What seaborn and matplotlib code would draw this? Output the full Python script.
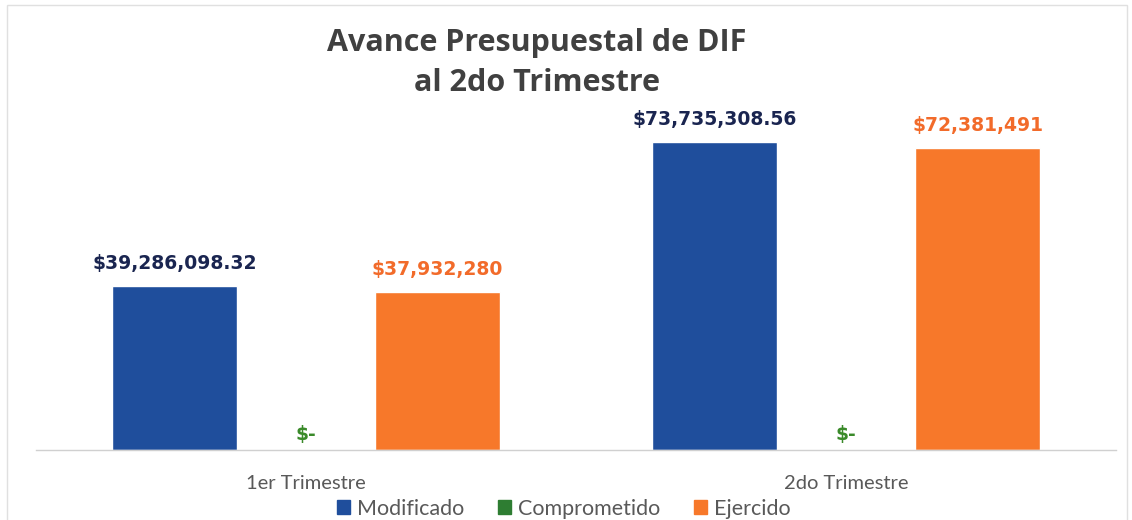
import pandas as pd
import matplotlib.pyplot as plt
import matplotlib.patches as mpatches
import seaborn as sns

#values
trimestres = ['1er Trimestre', '2do Trimestre']
series = ['Modificado', 'Comprometido', 'Ejercido']
modificado = [39286098.32, 73735308.56]
comprometido = [0, 0]
ejercido = [37932280, 72381491]

bar_colors = {'Modificado': '#1f4e9c', 'Comprometido': '#2e7d32', 'Ejercido': '#f7782a'}
label_colors = {'Modificado': '#1a2550', 'Comprometido': '#3a8a2a', 'Ejercido': '#f26b2a'}

#long table for seaborn
rows = []
for i, t in enumerate(trimestres):
    rows.append({'trimestre': t, 'serie': 'Modificado', 'monto': modificado[i]})
    rows.append({'trimestre': t, 'serie': 'Comprometido', 'monto': comprometido[i]})
    rows.append({'trimestre': t, 'serie': 'Ejercido', 'monto': ejercido[i]})
data = pd.DataFrame(rows)

sns.set_theme(style='white')
fig = plt.figure(figsize=(11.32, 5.2), dpi=100)
ax = fig.add_axes([0.032, 0.1346, 0.954, 0.723])

sns.barplot(data=data, x='trimestre', y='monto', hue='serie', order=trimestres,
            hue_order=series, palette=bar_colors, width=0.73, gap=0.05,
            saturation=1, errorbar=None, legend=False, ax=ax)

ax.set_xlim(-0.5, 1.5)
ax.set_ylim(0, 90000000)
ax.set_xlabel('')
ax.set_ylabel('')
ax.set_yticks([])
for s in ['top', 'left', 'right']:
    ax.spines[s].set_visible(False)
ax.spines['bottom'].set_color('#d0d0d0')
ax.spines['bottom'].set_linewidth(1)
ax.tick_params(axis='x', length=0, pad=18, labelsize=14.5, labelcolor='#595959')
for lbl in ax.get_xticklabels():
    lbl.set_family('Lato')

#data labels
def fmt(serie, v):
    if v == 0:
        return '$-'
    if serie == 'Modificado':
        return '${:,.2f}'.format(v)
    return '${:,.0f}'.format(v)

for serie, cont in zip(series, ax.containers):
    for bar in cont:
        v = bar.get_height()
        x = bar.get_x() + bar.get_width() / 2
        off = 9 if v > 0 else 4
        ax.annotate(fmt(serie, v), (x, v), xytext=(0, off), textcoords='offset points',
                    ha='center', va='bottom', fontsize=13.5, fontweight='bold',
                    color=label_colors[serie], family='DejaVu Sans', clip_on=False)

#title
fig.text(0.474, 0.879, 'Avance Presupuestal de DIF\nal 2do Trimestre', ha='center', va='center',
         fontsize=22, fontweight='bold', color='#404040', family='Open Sans', linespacing=1.42)

#legend at the bottom
handles = [mpatches.Patch(color=bar_colors[s], label=s) for s in series]
leg = fig.legend(handles=handles, loc='center', bbox_to_anchor=(0.498, 0.022), ncol=3,
                 frameon=False, handlelength=0.6, handleheight=0.6, handletextpad=0.3,
                 columnspacing=1.6, prop={'family': 'Lato', 'size': 15.5})
for txt in leg.get_texts():
    txt.set_color('#595959')

#thin frame of the chart area
fig.patches.append(mpatches.Rectangle((0.006, -0.01), 0.99, 1.0, transform=fig.transFigure,
                                      fill=False, edgecolor='#e0e0e0', linewidth=1))

fig.savefig('out.png', dpi=100)
